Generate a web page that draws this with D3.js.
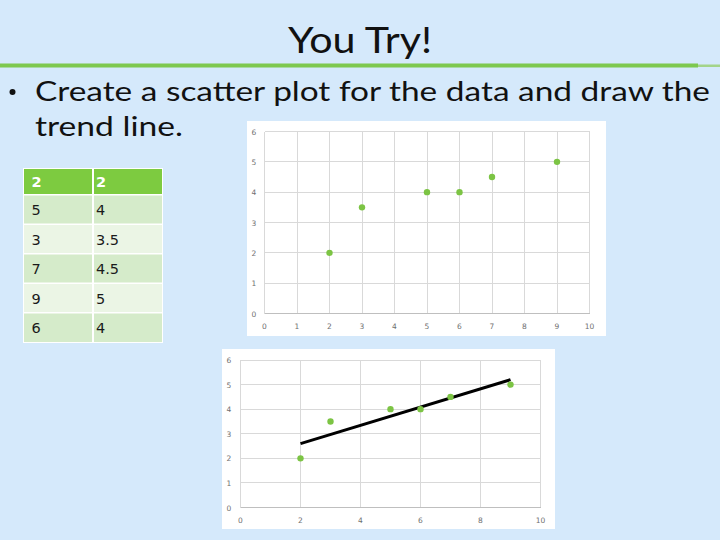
<!DOCTYPE html>
<html lang="en">
<head>
  <meta charset="UTF-8">
  <title>You Try!</title>
  <style>
    * { margin: 0; padding: 0; box-sizing: border-box; }
    body { background: #d5e9fb; width: 720px; height: 540px; overflow: hidden; }
    svg { display: block; }
  </style>
  <script src="https://cdnjs.cloudflare.com/ajax/libs/d3/7.8.5/d3.min.js"></script>
</head>
<body>
  <svg id="slide" width="720" height="540"></svg>
  <script>
    // data
    const xValues = [2, 5, 3, 7, 9, 6];
    const yValues = [2, 4, 3.5, 4.5, 5, 4];
    const yLabels = ["2", "4", "3.5", "4.5", "5", "4"];
    const trendX = [2, 9];
    const trendY = [2.6, 5.2];
    const xTicksTop = [0, 1, 2, 3, 4, 5, 6, 7, 8, 9, 10];
    const xTicksBottom = [0, 2, 4, 6, 8, 10];
    const yTicks = [0, 1, 2, 3, 4, 5, 6];

    const green = "#7cc444";
    const svg = d3.select("#slide");

    // title + rule
    svg.append("text")
      .attr("x", 360).attr("y", 53)
      .attr("text-anchor", "middle")
      .attr("textLength", 144).attr("lengthAdjust", "spacingAndGlyphs")
      .style("font-family", "Lato, sans-serif").style("font-size", "37px")
      .attr("fill", "#111")
      .text("You Try!");

    svg.append("rect").attr("x", 0).attr("y", 63.5).attr("width", 698).attr("height", 4).attr("fill", "#7dc84f");
    svg.append("rect").attr("x", 698).attr("y", 64.5).attr("width", 22).attr("height", 2.5).attr("fill", "#a3d489");

    // bullet text
    svg.append("circle").attr("cx", 12.5).attr("cy", 92).attr("r", 3).attr("fill", "#111");
    svg.append("text")
      .attr("x", 35).attr("y", 101)
      .attr("textLength", 675).attr("lengthAdjust", "spacingAndGlyphs")
      .style("font-family", "Lato, sans-serif").style("font-size", "27px")
      .attr("fill", "#111")
      .text("Create a scatter plot for the data and draw the");
    svg.append("text")
      .attr("x", 35).attr("y", 136)
      .attr("textLength", 148).attr("lengthAdjust", "spacingAndGlyphs")
      .style("font-family", "Lato, sans-serif").style("font-size", "27px")
      .attr("fill", "#111")
      .text("trend line.");

    // table
    function drawTable() {
      const left = 24, mid = 93, right = 162;
      const rowTops = [169, 195.5, 225, 254.5, 284, 313.5];
      const rowBottom = 342;
      const fills = ["#7dcb40", "#d5ebca", "#ebf5e5", "#d5ebca", "#ebf5e5", "#d5ebca"];
      const g = svg.append("g");
      g.append("rect").attr("x", left - 1).attr("y", rowTops[0] - 1)
        .attr("width", right - left + 2).attr("height", rowBottom - rowTops[0] + 2)
        .attr("fill", "#fff");
      xValues.forEach((xv, i) => {
        const top = rowTops[i];
        const bottom = i < rowTops.length - 1 ? rowTops[i + 1] - 1.5 : rowBottom;
        const h = bottom - top;
        g.append("rect").attr("x", left).attr("y", top).attr("width", mid - left - 1).attr("height", h).attr("fill", fills[i]);
        g.append("rect").attr("x", mid + 1).attr("y", top).attr("width", right - mid - 1).attr("height", h).attr("fill", fills[i]);
        const base = top + h / 2 + 5.5;
        const style = t => t.style("font-family", "'DejaVu Sans', sans-serif").style("font-size", "14.5px")
          .style("font-weight", i === 0 ? "bold" : "normal").attr("fill", i === 0 ? "#fff" : "#1a1a1a");
        g.append("text").attr("x", 31.5).attr("y", base).text(String(xv)).call(style);
        g.append("text").attr("x", 96).attr("y", base).text(yLabels[i]).call(style);
      });
    }
    drawTable();

    // scatter charts
    function drawChart(opts) {
      const g = svg.append("g");
      g.append("rect").attr("x", opts.panel[0]).attr("y", opts.panel[1])
        .attr("width", opts.panel[2] - opts.panel[0]).attr("height", opts.panel[3] - opts.panel[1])
        .attr("fill", "#fff");

      const x = d3.scaleLinear().domain([0, 10]).range([opts.x0, opts.x1]);
      const y = d3.scaleLinear().domain([0, 6]).range([opts.y0, opts.y1]);

      // gridlines
      g.append("g").selectAll("line").data(opts.xTicks).join("line")
        .attr("x1", d => x(d)).attr("x2", d => x(d))
        .attr("y1", y(0)).attr("y2", y(6))
        .attr("stroke", "#d9d9d9").attr("shape-rendering", "crispEdges");
      g.append("g").selectAll("line").data(yTicks).join("line")
        .attr("x1", x(0)).attr("x2", x(10))
        .attr("y1", d => y(d)).attr("y2", d => y(d))
        .attr("stroke", d => d === 0 ? "#bfbfbf" : "#d9d9d9").attr("shape-rendering", "crispEdges");

      // tick labels
      const tickStyle = sel => sel.style("font-family", "'DejaVu Sans', sans-serif").style("font-size", "7.5px").attr("fill", "#6f6f6f");
      g.append("g").selectAll("text").data(opts.xTicks).join("text")
        .attr("x", d => x(d)).attr("y", opts.xLabelY + 3)
        .attr("text-anchor", "middle").text(d => d).call(tickStyle);
      g.append("g").selectAll("text").data(yTicks).join("text")
        .attr("x", opts.yLabelX).attr("y", d => y(d) + 3)
        .attr("text-anchor", "middle").text(d => d).call(tickStyle);

      if (opts.trend) {
        g.append("line")
          .attr("x1", x(trendX[0])).attr("y1", y(trendY[0]))
          .attr("x2", x(trendX[1])).attr("y2", y(trendY[1]))
          .attr("stroke", "#000").attr("stroke-width", 3);
      }

      g.append("g").selectAll("circle").data(xValues.map((d, i) => [d, yValues[i]])).join("circle")
        .attr("cx", d => x(d[0])).attr("cy", d => y(d[1]))
        .attr("r", 3.2).attr("fill", green);
    }

    drawChart({
      panel: [247, 121, 606, 336],
      x0: 264.5, x1: 589.5, y0: 313.5, y1: 131.5,
      xTicks: xTicksTop, xLabelY: 325.5, yLabelX: 254
    });

    drawChart({
      panel: [222, 349, 555, 529],
      x0: 240.5, x1: 540.5, y0: 507.5, y1: 360,
      xTicks: xTicksBottom, xLabelY: 519.5, yLabelX: 229,
      trend: true
    });
  </script>
</body>
</html>
